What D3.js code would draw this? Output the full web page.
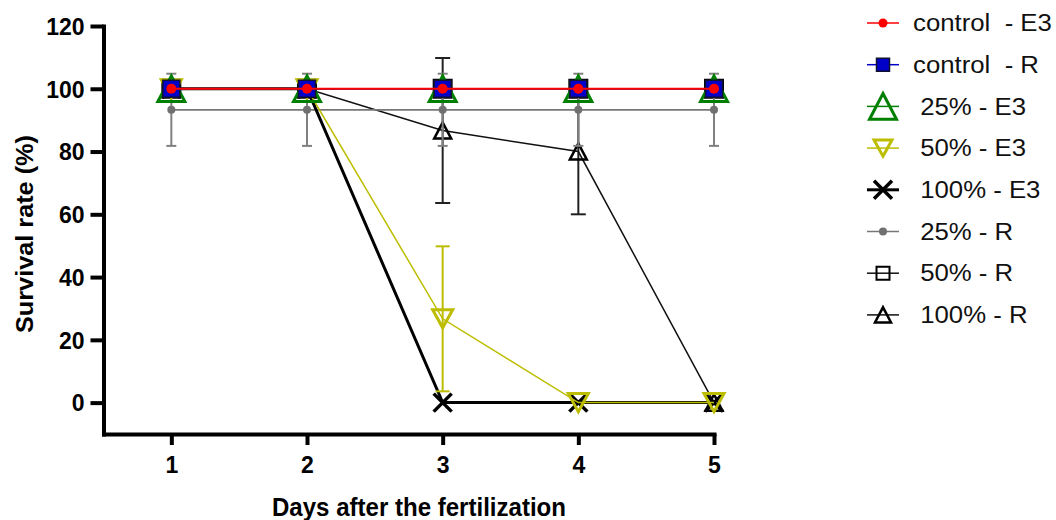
<!DOCTYPE html>
<html>
<head>
<meta charset="utf-8">
<script src="https://cdn.jsdelivr.net/npm/d3@7/dist/d3.min.js"></script>
<style>
  html, body { margin: 0; padding: 0; background: #fff; }
  svg { display: block; }
  text { font-family: "Liberation Sans", Arial, Helvetica, sans-serif; }
</style>
</head>
<body>
<svg id="chart" width="1056" height="520"></svg>
<script>
// ---------------- DATA ----------------
const days = [1, 2, 3, 4, 5];
const yTicks = [0, 20, 40, 60, 80, 100, 120];
const seriesNames = ["control  - E3", "control  - R", " 25% - E3", " 50% - E3", " 100% - E3", " 25% - R", " 50% - R", " 100% - R"];

const controlE3 = [100, 100, 100, 100, 100];
const controlR  = [100, 100, 100, 100, 100];
const p25E3     = [100, 100, 100, 100, 100];
const p50E3     = [100, 100, 26.7, 0, 0];
const p100E3    = [100, 100, 0, 0, 0];
const p25R      = [93.3, 93.3, 93.3, 93.3, 93.3];
const p50R      = [100, 100, 100, 100, 100];
const p100R     = [100, 100, 86.7, 80, 0];

const errControlE3 = [0, 0, 0, 0, 0];
const errControlR  = [0, 0, 0, 0, 0];
const err25E3      = [0, 0, 0, 0, 0];
const err50E3      = [0, 0, 23.1, 0, 0];
const err100E3     = [0, 0, 0, 0, 0];
const err25R       = [11.5, 11.5, 11.5, 11.5, 11.5];
const err50R       = [0, 0, 0, 0, 0];
const err100R      = [0, 0, 23.1, 20, 0];

const seriesValues = [controlE3, controlR, p25E3, p50E3, p100E3, p25R, p50R, p100R];
const seriesErrors = [errControlE3, errControlR, err25E3, err50E3, err100E3, err25R, err50R, err100R];

// ---------------- STYLES ----------------
const styles = [
  { color: "#ff0000", lw: 2,   marker: "circle",  size: 10, fill: "#ff0000", mstroke: "none", msw: 0, capW: 10, ec: "#ff0000" },
  { color: "#0000c8", lw: 1.5, marker: "square",  size: 17, fill: "#0000c8", mstroke: "#111133", msw: 1.5, capW: 10, ec: "#0000c8" },
  { color: "#008000", lw: 1.5, marker: "triUp",   size: 27, fill: "none",    mstroke: "#008000", msw: 3, capW: 10, ec: "#008000" },
  { color: "#bdbd00", lw: 1.5, marker: "triDown", size: 20, fill: "none",    mstroke: "#bdbd00", msw: 3, capW: 14, ec: "#bdbd00" },
  { color: "#000000", lw: 3,   marker: "cross",   size: 18, fill: "none",    mstroke: "#000000", msw: 3.5, capW: 10, ec: "#000000" },
  { color: "#777777", lw: 1.8, marker: "circle",  size: 8,  fill: "#707070", mstroke: "none", msw: 0, capW: 10, ec: "#808080" },
  { color: "#111111", lw: 1.5, marker: "square",  size: 18, fill: "none",    mstroke: "#000000", msw: 2, capW: 10, ec: "#222222" },
  { color: "#111111", lw: 1.5, marker: "triUp",   size: 17, fill: "none",    mstroke: "#000000", msw: 2.5, capW: 15, ec: "#222222" }
];
const legendSizes = [9, 13, 27, 18, 18, 8, 13, 16];

function markerPath(type, s) {
  const h = s / 2;
  switch (type) {
    case "square": return `M${-h},${-h}H${h}V${h}H${-h}Z`;
    case "triUp": return `M${-h},${h * 0.95}H${h}L0,${-h * 0.95}Z`;
    case "triDown": return `M${-h},${-h * 0.9}H${h}L0,${h * 0.9}Z`;
    case "cross": return `M${-h},${-h}L${h},${h}M${h},${-h}L${-h},${h}`;
    default: return "";
  }
}

function drawMarker(g, st, s, cx, cy) {
  if (st.marker === "circle") {
    g.append("circle").attr("cx", cx).attr("cy", cy).attr("r", s / 2)
      .attr("fill", st.fill);
  } else {
    g.append("path").attr("d", markerPath(st.marker, s))
      .attr("transform", `translate(${cx},${cy})`)
      .attr("fill", st.fill).attr("stroke", st.mstroke)
      .attr("stroke-width", st.msw).attr("stroke-linejoin", "miter");
  }
}

// ---------------- SCALES ----------------
const svg = d3.select("#chart");
const x = d3.scaleLinear().domain([0.5, 5]).range([103.5, 714]);
const y = d3.scaleLinear().domain([-10, 120]).range([434, 26]);

// ---------------- AXES ----------------
const yAxis = svg.append("g").attr("transform", `translate(${x(0.5)},0)`)
  .call(d3.axisLeft(y).tickValues(yTicks).tickSize(13).tickSizeOuter(0).tickPadding(6));
const xAxis = svg.append("g").attr("transform", `translate(0,${y(-10)})`)
  .call(d3.axisBottom(x).tickValues(days).tickSize(11).tickSizeOuter(0).tickPadding(12).tickFormat(d3.format("d")));

[yAxis, xAxis].forEach(a => {
  a.attr("font-size", null).attr("font-family", null);
  a.select(".domain").attr("stroke", "#000").attr("stroke-width", 4).attr("stroke-linecap", "square");
  a.selectAll(".tick line").attr("stroke", "#000").attr("stroke-width", 4);
  a.selectAll(".tick text").attr("fill", "#000")
    .attr("style", "font-size:23px;font-weight:bold;font-family:'Liberation Sans',Arial,sans-serif");
});
yAxis.selectAll(".tick text").attr("dy", "0.36em");
xAxis.selectAll(".tick text").attr("dy", "0.71em");

// ---------------- SERIES (drawn last to first) ----------------
const plot = svg.append("g");
const line = d3.line().x((d, i) => x(days[i])).y(d => y(d));

for (let k = seriesValues.length - 1; k >= 0; k--) {
  const st = styles[k];
  const vals = seriesValues[k];
  const errs = seriesErrors[k];
  const g = plot.append("g");
  vals.forEach((v, i) => {
    const e = errs[i];
    if (e > 0) {
      const cx = x(days[i]);
      g.append("line").attr("x1", cx).attr("x2", cx).attr("y1", y(v - e)).attr("y2", y(v + e))
        .attr("stroke", st.ec).attr("stroke-width", 2);
      [v - e, v + e].forEach(c => {
        g.append("line").attr("x1", cx - st.capW / 2).attr("x2", cx + st.capW / 2)
          .attr("y1", y(c)).attr("y2", y(c)).attr("stroke", st.ec).attr("stroke-width", 2);
      });
    }
  });
  g.append("path").attr("d", line(vals)).attr("fill", "none")
    .attr("stroke", st.color).attr("stroke-width", st.lw);
  vals.forEach((v, i) => drawMarker(g, st, st.size, x(days[i]), y(v)));
}

// ---------------- TITLES ----------------
svg.append("text").attr("x", 419).attr("y", 516).attr("text-anchor", "middle")
  .style("font-size", "25px").style("font-weight", "bold").attr("fill", "#000")
  .attr("textLength", 294).attr("lengthAdjust", "spacingAndGlyphs")
  .text("Days after the fertilization");

svg.append("text").attr("transform", "translate(33,234) rotate(-90)").attr("text-anchor", "middle")
  .style("font-size", "23px").style("font-weight", "bold").attr("fill", "#000")
  .attr("textLength", 198).attr("lengthAdjust", "spacingAndGlyphs")
  .text("Survival rate (%)");

// ---------------- LEGEND ----------------
const legend = svg.append("g");
seriesNames.forEach((name, i) => {
  const st = styles[i];
  const cy = 23 + i * 41.7;
  const g = legend.append("g");
  g.append("line").attr("x1", 867).attr("x2", 899).attr("y1", cy).attr("y2", cy)
    .attr("stroke", st.color).attr("stroke-width", i === 4 ? 3 : 1.5);
  drawMarker(g, st, legendSizes[i], 883, cy);
  const t = g.append("text").attr("x", 913).attr("y", cy).attr("dy", "0.36em")
    .style("font-size", "23px").style("white-space", "pre").attr("fill", "#111")
    .text(name);
  const len = t.node().getComputedTextLength();
  t.attr("textLength", len * 1.12).attr("lengthAdjust", "spacingAndGlyphs");
});
</script>
</body>
</html>
